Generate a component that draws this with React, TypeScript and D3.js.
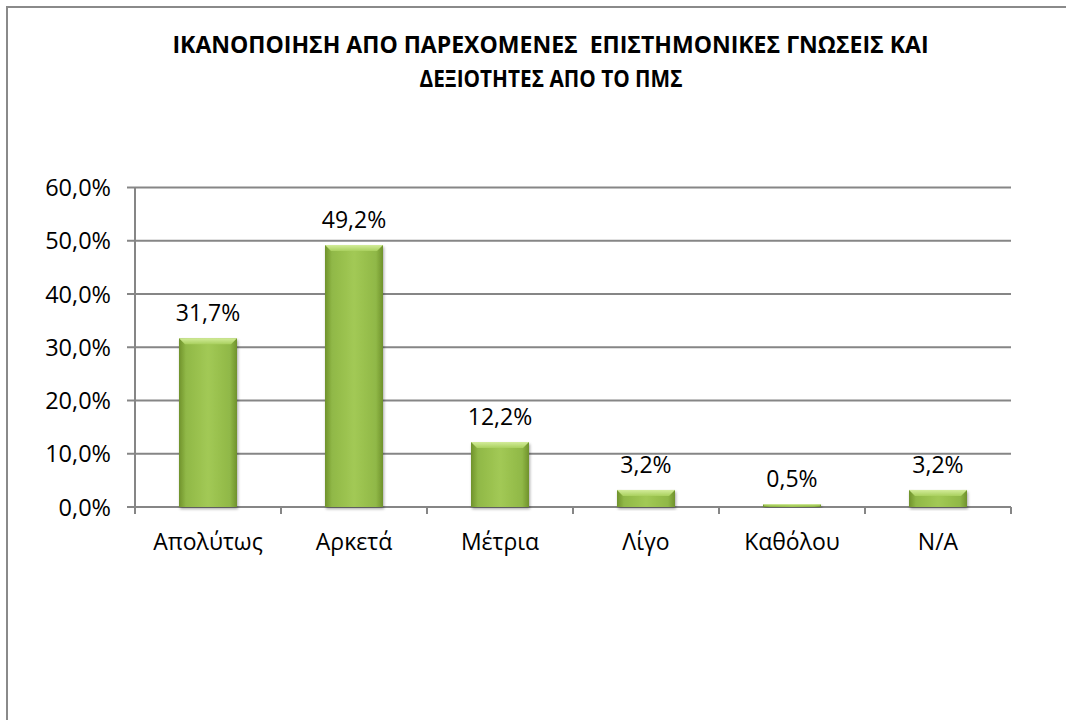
import React from "react";
import * as d3 from "d3";

const titleLines = [
  "ΙΚΑΝΟΠΟΙΗΣΗ ΑΠΟ ΠΑΡΕΧΟΜΕΝΕΣ  ΕΠΙΣΤΗΜΟΝΙΚΕΣ ΓΝΩΣΕΙΣ ΚΑΙ",
  "ΔΕΞΙΟΤΗΤΕΣ ΑΠΟ ΤΟ ΠΜΣ",
];
const categories = ["Απολύτως", "Αρκετά", "Μέτρια", "Λίγο", "Καθόλου", "N/A"];
const values = [31.7, 49.2, 12.2, 3.2, 0.5, 3.2];
const yTicks = [0, 10, 20, 30, 40, 50, 60];

const W = 1066;
const H = 720;
const plot = { left: 135, right: 1011, top: 187.5, bottom: 507 };
const FONT = "'Open Sans', 'DejaVu Sans', sans-serif";

const fmt = (v: number) => v.toFixed(1).replace(".", ",") + "%";

export default function App() {
  const x = d3
    .scaleBand<string>()
    .domain(categories)
    .range([plot.left, plot.right])
    .paddingInner(0)
    .paddingOuter(0);
  const y = d3.scaleLinear().domain([0, 60]).range([plot.bottom, plot.top]);
  const bw = 58;
  const grid = "#868686";

  return (
    <svg
      width={W}
      height={H}
      style={{ position: "fixed", left: 0, top: 0, background: "#fff" }}
    >
      <defs>
        <linearGradient id="barH" x1="0" x2="1" y1="0" y2="0">
          <stop offset="0" stopColor="#6f922c" />
          <stop offset="0.12" stopColor="#90b847" />
          <stop offset="0.5" stopColor="#a2c955" />
          <stop offset="0.88" stopColor="#90b847" />
          <stop offset="1" stopColor="#6f922c" />
        </linearGradient>
        <linearGradient id="barTop" x1="0" x2="0" y1="0" y2="1">
          <stop offset="0" stopColor="#d3ec9a" />
          <stop offset="1" stopColor="#a9d05e" />
        </linearGradient>
        <filter id="sh" x="-20%" y="-20%" width="140%" height="140%">
          <feGaussianBlur in="SourceAlpha" stdDeviation="1.5" />
          <feOffset dx="1" dy="1.5" />
          <feComponentTransfer>
            <feFuncA type="linear" slope="0.35" />
          </feComponentTransfer>
          <feMerge>
            <feMergeNode />
            <feMergeNode in="SourceGraphic" />
          </feMerge>
        </filter>
      </defs>

      {/* outer border */}
      <rect x={7} y={7} width={W + 20} height={H + 20} fill="none" stroke="#8a8a8a" strokeWidth={2} />

      {/* title */}
      <text
        x={550.5}
        y={53}
        textAnchor="middle"
        fontFamily={FONT}
        fontWeight="bold"
        fontSize={24}
        textLength={756}
        lengthAdjust="spacingAndGlyphs"
        style={{ whiteSpace: "pre" }}
        fill="#000"
      >
        {titleLines[0]}
      </text>
      <text
        x={551}
        y={87}
        textAnchor="middle"
        fontFamily={FONT}
        fontWeight="bold"
        fontSize={24}
        textLength={263}
        lengthAdjust="spacingAndGlyphs"
        fill="#000"
      >
        {titleLines[1]}
      </text>

      {/* gridlines and y ticks */}
      {yTicks.map((t) => (
        <g key={t}>
          <line x1={plot.left} x2={plot.right} y1={y(t)} y2={y(t)} stroke={grid} strokeWidth={2} />
          <line x1={plot.left - 8} x2={plot.left} y1={y(t)} y2={y(t)} stroke={grid} strokeWidth={2} />
          <text
            x={111}
            y={y(t) + 8.5}
            textAnchor="end"
            fontFamily={FONT}
            fontSize={23.5}
            fill="#000"
          >
            {fmt(t)}
          </text>
        </g>
      ))}

      {/* y axis */}
      <line x1={plot.left} x2={plot.left} y1={plot.top} y2={plot.bottom} stroke={grid} strokeWidth={2} />

      {/* x ticks */}
      {categories.concat(["__end"]).map((c, i) => {
        const xx = plot.left + i * x.bandwidth();
        return <line key={c} x1={xx} x2={xx} y1={plot.bottom} y2={plot.bottom + 7} stroke={grid} strokeWidth={2} />;
      })}

      {/* bars */}
      {categories.map((c, i) => {
        const cx = (x(c) as number) + x.bandwidth() / 2;
        const x0 = cx - bw / 2;
        const yTop = y(values[i]);
        const h = plot.bottom - yTop;
        const bev = Math.min(6, h / 2);
        return (
          <g key={c}>
            <g filter="url(#sh)">
              <rect x={x0} y={yTop} width={bw} height={h} fill="url(#barH)" />
              <polygon
                points={`${x0},${yTop} ${x0 + bw},${yTop} ${x0 + bw - bev},${yTop + bev} ${x0 + bev},${yTop + bev}`}
                fill="url(#barTop)"
              />
            </g>
            <text
              x={cx}
              y={yTop - 17}
              textAnchor="middle"
              fontFamily={FONT}
              fontSize={23}
              fill="#000"
            >
              {fmt(values[i])}
            </text>
            <text
              x={cx}
              y={550}
              textAnchor="middle"
              fontFamily={FONT}
              fontSize={23}
              fill="#000"
            >
              {c}
            </text>
          </g>
        );
      })}
    </svg>
  );
}
